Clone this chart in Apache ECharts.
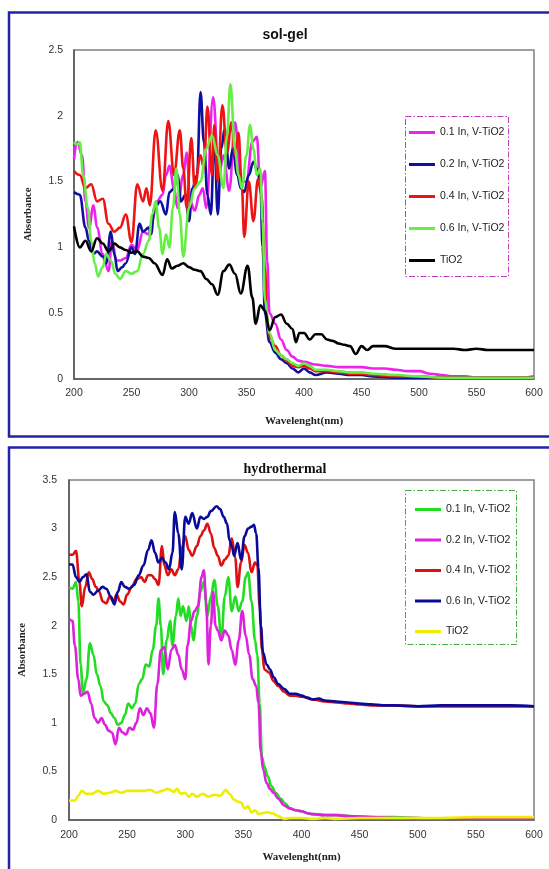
<!DOCTYPE html>
<html>
<head>
<meta charset="utf-8">
<title>sol-gel / hydrothermal</title>
<script src="https://cdn.jsdelivr.net/npm/echarts@6/dist/echarts.min.js"></script>
<style>
    html, body { margin: 0; padding: 0; background: #fff; }
    .echarts_1 { position: absolute; left: 0; top: 0; width: 549px; height: 442px; }
    .echarts_2 { position: absolute; left: 0; top: 442px; width: 549px; height: 427px; }
</style>
</head>
<body>
<div class="echarts_1"></div>
<div class="echarts_2"></div>
<script>
// 图例名称
var names = ['0.1 In, V-TiO2', '0.2 In, V-TiO2', '0.4 In, V-TiO2', '0.6 In, V-TiO2', 'TiO2'];
var xTicks = [200, 600, 50];

// ---- sol-gel 数据 ----
var sol01X = [200,203,207,210,213,217,220,225,230,233,237,240,245,250,255,260,265,268,272,277,280,283,287,290,295,298,301,305,309,312,315,321,326,330,335,340,345,350,355,359,362,366,368,370,375,380,385,390,395,400,410,420,430,440,450,460,470,480,490,500,510,520,530,540,550,560,570,580,590,600];
var sol01Y = [1.67,1.80,1.70,1.35,1.15,1.32,1.15,0.95,0.82,1.05,0.90,0.90,0.92,1.02,0.98,1.12,1.10,1.20,1.35,1.40,1.55,1.62,1.45,1.30,1.55,1.72,1.35,1.28,1.40,1.45,1.30,2.14,1.55,1.70,1.43,1.95,1.50,1.50,1.80,1.84,1.45,1.58,0.90,0.50,0.42,0.30,0.22,0.17,0.14,0.13,0.11,0.10,0.09,0.09,0.09,0.08,0.08,0.07,0.06,0.06,0.04,0.03,0.02,0.02,0.01,0.01,0.01,0.01,0.01,0.02];

var sol02X = [200,205,210,213,217,220,225,228,232,235,238,242,245,250,253,257,260,265,267,270,275,280,283,287,290,293,297,300,303,307,310,313,316,319,322,325,328,331,335,338,342,345,348,352,356,359,362,364,366,370,375,380,385,390,395,400,405,410,420,430,440,450,460,480,500,520,550,600];
var sol02Y = [1.42,1.40,1.15,1.05,0.95,0.97,0.93,0.88,1.12,0.95,0.82,0.85,0.88,1.00,0.95,1.18,1.12,1.15,1.10,1.30,1.35,1.25,1.42,1.45,1.55,1.35,1.40,1.20,1.45,1.55,2.18,1.80,1.40,1.25,1.85,1.25,1.75,1.90,1.60,1.75,1.55,1.45,1.42,1.55,1.65,1.60,1.50,1.00,0.50,0.28,0.20,0.15,0.12,0.08,0.05,0.08,0.05,0.03,0.05,0.04,0.03,0.03,0.02,0.01,0.01,0.01,0.01,0.01];

var sol04X = [200,205,210,215,220,225,230,235,240,245,250,255,260,263,266,271,277,282,287,292,295,298,302,305,310,313,316,320,322,325,329,333,337,340,343,346,348,352,356,360,363,366,368,370,375,380,385,390,395,400,405,410,420,430,440,450,460,480,500,520,550,600];
var sol04Y = [1.58,1.55,1.45,1.48,1.35,1.37,1.18,1.12,1.15,1.25,1.04,1.48,1.35,1.45,1.32,1.89,1.43,1.96,1.55,1.89,1.60,1.30,1.83,1.45,1.70,1.60,2.07,1.55,1.93,1.50,2.08,1.72,1.95,1.70,1.87,1.45,1.08,1.50,1.20,1.52,1.40,0.85,0.45,0.32,0.25,0.18,0.14,0.10,0.09,0.10,0.08,0.06,0.06,0.05,0.04,0.04,0.03,0.02,0.02,0.01,0.01,0.01];

var sol06X = [200,203,205,208,212,215,218,221,225,228,232,236,240,245,250,255,260,265,268,271,274,277,280,283,286,289,292,295,300,305,310,315,320,325,330,333,336,340,343,346,350,353,356,359,362,364,366,370,375,380,385,390,395,400,405,410,420,430,440,450,460,480,500,520,550,600];
var sol06Y = [1.80,1.78,1.80,1.55,1.30,1.05,0.88,0.78,0.85,0.95,0.90,0.80,0.76,0.82,0.80,0.82,0.95,1.05,1.25,1.35,1.15,0.95,1.10,1.00,1.30,1.60,1.25,0.93,1.30,1.45,1.50,1.75,1.85,1.70,1.45,1.85,2.24,1.75,1.55,1.45,1.70,1.93,1.75,1.55,1.60,1.20,0.60,0.35,0.22,0.18,0.15,0.12,0.10,0.12,0.10,0.07,0.07,0.06,0.05,0.05,0.04,0.03,0.02,0.01,0.01,0.01];

var solTiX = [200,205,210,215,220,225,230,235,240,245,250,255,260,265,270,277,281,285,290,295,300,305,310,315,320,325,330,335,340,345,351,355,358,362,366,370,375,380,385,390,393,396,400,405,410,415,420,425,430,435,440,445,450,455,460,470,480,490,500,510,520,530,540,550,560,570,580,590,600];
var solTiY = [1.16,1.00,1.05,0.97,1.07,1.03,0.97,1.03,1.00,0.98,0.96,0.97,0.93,0.92,0.88,0.79,0.91,0.84,0.86,0.88,0.85,0.83,0.82,0.76,0.72,0.64,0.82,0.87,0.80,0.65,0.86,0.62,0.42,0.56,0.52,0.37,0.47,0.49,0.42,0.38,0.28,0.35,0.35,0.30,0.34,0.34,0.30,0.29,0.27,0.26,0.25,0.19,0.25,0.22,0.25,0.25,0.23,0.23,0.23,0.23,0.23,0.23,0.22,0.23,0.22,0.22,0.22,0.22,0.22];

// ---- hydrothermal 数据 ----
var hyd01X = [200,203,206,208,210,212,215,218,221,224,227,230,233,236,239,242,245,248,251,254,257,260,263,266,269,272,275,277,279,281,284,287,289,292,294,296,298,301,303,305,307,310,313,316,319,322,325,328,331,334,337,340,343,346,349,352,354,357,360,362,364,366,368,371,374,378,382,386,390,395,400,405,410,420,430,440,460,480,500,520,550,600];
var hyd01Y = [2.40,2.38,2.45,2.25,1.60,1.30,1.45,1.82,1.70,1.50,1.38,1.22,1.18,1.10,1.05,0.98,1.00,1.08,1.20,1.15,1.20,1.40,1.45,1.60,1.58,1.75,2.00,2.28,2.00,1.50,1.85,2.05,1.80,2.10,2.28,2.10,2.20,2.05,2.20,2.00,1.85,2.10,2.35,2.45,2.10,2.30,2.47,2.20,1.85,2.30,2.50,2.15,2.30,2.15,2.25,2.50,2.55,2.25,1.85,1.70,1.20,0.65,0.55,0.45,0.35,0.28,0.22,0.17,0.12,0.10,0.09,0.07,0.06,0.05,0.05,0.04,0.03,0.03,0.02,0.01,0.01,0.01];

var hyd02X = [200,203,205,208,210,213,216,219,222,225,228,231,234,237,240,243,246,249,252,255,258,261,264,267,270,273,276,279,282,285,288,291,294,297,300,302,305,308,311,314,316,318,320,322,324,326,328,331,334,337,340,343,346,349,352,355,358,361,363,365,367,370,373,376,380,385,390,395,400,405,410,420,430,440,460,480,500,520,550,600];
var hyd02Y = [2.07,2.05,1.80,1.45,1.28,1.30,1.32,1.20,1.05,1.00,1.05,0.98,0.92,0.90,0.78,0.95,0.90,0.88,0.95,0.93,1.00,1.15,1.08,1.15,1.10,0.95,1.40,1.75,1.78,1.55,1.75,1.80,1.70,1.55,1.45,1.80,2.05,2.15,2.20,2.50,2.57,2.25,1.60,2.00,2.35,2.00,1.95,1.85,1.95,1.90,1.75,1.60,1.85,2.15,1.90,1.70,1.45,1.38,1.20,0.70,0.52,0.38,0.32,0.28,0.22,0.15,0.12,0.10,0.09,0.07,0.06,0.05,0.05,0.04,0.03,0.02,0.02,0.01,0.01,0.01];

var hyd04X = [200,203,206,209,211,214,217,220,223,226,229,232,235,238,241,244,247,250,254,258,262,265,268,271,274,277,280,282,285,288,291,294,297,300,303,306,310,313,316,319,322,325,328,331,334,337,340,343,345,348,351,354,357,360,362,364,366,368,372,376,380,385,390,395,400,410,420,430,440,450,460,480,500,600];
var hyd04Y = [2.73,2.73,2.77,2.45,2.20,2.40,2.55,2.48,2.40,2.35,2.25,2.23,2.30,2.25,2.32,2.25,2.22,2.32,2.40,2.48,2.50,2.45,2.52,2.52,2.48,2.42,2.82,2.62,2.52,2.58,2.52,2.58,2.80,2.92,2.78,2.72,2.82,2.92,2.98,3.05,2.95,2.80,2.72,2.62,2.68,2.72,2.90,2.70,2.40,2.65,2.83,2.75,2.55,2.65,2.62,2.20,1.75,1.55,1.52,1.43,1.38,1.32,1.28,1.28,1.27,1.24,1.22,1.21,1.20,1.19,1.18,1.18,1.17,1.17];

var hyd06X = [200,203,206,209,212,215,218,221,225,229,232,236,239,242,245,248,252,256,260,264,268,271,274,277,280,283,286,289,291,294,297,300,303,306,310,313,316,319,322,327,330,333,336,338,340,342,345,348,351,354,357,359,361,363,365,367,370,373,376,380,385,390,395,400,405,410,415,420,430,440,450,460,470,480,500,520,540,560,580,600];
var hyd06Y = [2.63,2.63,2.50,2.45,2.50,2.53,2.35,2.32,2.36,2.40,2.38,2.30,2.22,2.35,2.45,2.40,2.38,2.42,2.52,2.62,2.78,2.88,2.75,2.65,2.70,2.65,2.58,2.75,3.17,2.95,2.58,3.12,3.05,3.16,3.00,3.12,3.10,3.12,3.18,3.23,3.20,3.12,3.05,2.88,2.82,2.72,2.85,2.68,2.92,3.00,3.02,3.04,2.95,2.60,2.00,1.72,1.60,1.55,1.47,1.40,1.35,1.30,1.30,1.28,1.26,1.24,1.25,1.23,1.22,1.21,1.20,1.19,1.18,1.18,1.17,1.18,1.18,1.18,1.18,1.17];

var hydTiX = [200,205,208,211,215,220,225,230,235,240,245,250,255,260,265,270,275,280,285,290,293,296,300,303,306,310,315,320,325,330,335,338,342,345,348,351,354,357,360,363,366,370,375,380,385,390,400,410,420,430,450,470,500,520,550,580,600];
var hydTiY = [0.20,0.20,0.25,0.30,0.27,0.27,0.30,0.27,0.28,0.30,0.28,0.30,0.30,0.30,0.30,0.31,0.28,0.30,0.32,0.29,0.32,0.27,0.28,0.24,0.27,0.24,0.27,0.24,0.26,0.25,0.31,0.27,0.21,0.19,0.18,0.12,0.14,0.08,0.10,0.06,0.07,0.08,0.07,0.04,0.01,0.02,0.02,0.01,0.02,0.01,0.02,0.02,0.02,0.02,0.03,0.03,0.03];

// x, y 数组合成 [x, y]
function pairs(xs, ys) {
    var out = [];
    for (var i = 0; i < xs.length; i++) {
        out.push([xs[i], ys[i]]);
    }
    return out;
}

function lineSeries(name, xs, ys, color) {
    return {
        name: name,
        type: 'line',
        data: pairs(xs, ys),
        showSymbol: false,
        smooth: 0.4,
        smoothMonotone: 'x',
        lineStyle: { color: color, width: 2.6 },
        itemStyle: { color: color }
    };
}

var sansFont = 'Liberation Sans';
var serifFont = 'Liberation Serif';

// 公共的坐标轴配置
function makeOption(cfg) {
    return {
        animation: false,
        title: {
            text: cfg.title,
            left: 280,
            top: cfg.titleTop,
            textAlign: 'center',
            textStyle: { fontFamily: cfg.titleFont, fontWeight: 'bold', fontSize: 14, color: '#111' }
        },
        grid: {
            left: cfg.grid[0], top: cfg.grid[1], right: cfg.grid[2], bottom: cfg.grid[3],
            show: true, borderColor: '#808080', borderWidth: 1.5, backgroundColor: '#fff'
        },
        legend: {
            orient: 'vertical',
            left: cfg.legendLeft,
            top: cfg.legendTop,
            padding: 0,
            itemGap: cfg.legendGap,
            itemWidth: 26,
            itemHeight: 3,
            icon: 'rect',
            data: names,
            textStyle: { fontFamily: sansFont, fontSize: 10.5, color: '#222' }
        },
        xAxis: {
            type: 'value',
            min: xTicks[0], max: xTicks[1], interval: xTicks[2],
            name: 'Wavelenght(nm)',
            nameLocation: 'middle',
            nameGap: cfg.xNameGap,
            nameTextStyle: { fontFamily: serifFont, fontWeight: 'bold', fontSize: 11, color: '#222' },
            axisLine: { lineStyle: { color: '#555', width: 1.5 } },
            axisTick: { show: false },
            splitLine: { show: false },
            axisLabel: { margin: cfg.xLabelMargin, fontFamily: sansFont, fontSize: 10.5, color: '#333' }
        },
        yAxis: {
            type: 'value',
            min: 0, max: cfg.yMax, interval: 0.5,
            name: 'Absorbance',
            nameLocation: 'middle',
            nameGap: cfg.yNameGap,
            nameTextStyle: { fontFamily: serifFont, fontWeight: 'bold', fontSize: 10.5, color: '#222' },
            axisLine: { show: true, lineStyle: { color: '#555', width: 1.5 } },
            axisTick: { show: false },
            splitLine: { show: false },
            axisLabel: { margin: cfg.yLabelMargin, fontFamily: sansFont, fontSize: 10.5, color: '#333' }
        },
        graphic: [
            // 外面的蓝色边框
            {
                type: 'rect', z: -10, silent: true,
                shape: { x: 9, y: cfg.frameTop, width: 560, height: cfg.frameHeight },
                style: { fill: null, stroke: '#2323a8', lineWidth: 2.5 }
            },
            // 图例的点划线框
            {
                type: 'rect', z: 10, silent: true,
                shape: cfg.legendBox,
                style: { fill: null, stroke: cfg.legendBoxColor, lineWidth: 1, lineDash: [6, 2, 1.5, 2] }
            }
        ],
        series: cfg.series
    };
}

// sol-gel 图
var echarts_1 = echarts.init(document.querySelector('.echarts_1'));
var option1 = makeOption({
    title: 'sol-gel',
    titleTop: 23,
    titleFont: sansFont,
    grid: [74, 50, 15, 63],
    legendLeft: 409,
    legendTop: 127,
    legendGap: 21,
    legendBox: { x: 405.5, y: 116.5, width: 103, height: 160 },
    legendBoxColor: '#c040c0',
    xNameGap: 37,
    xLabelMargin: 9,
    yNameGap: 40,
    yLabelMargin: 11,
    yMax: 2.5,
    frameTop: 12.5,
    frameHeight: 424,
    series: [
        lineSeries(names[0], sol01X, sol01Y, '#ee22ee'),
        lineSeries(names[1], sol02X, sol02Y, '#1010a0'),
        lineSeries(names[2], sol04X, sol04Y, '#ee1414'),
        lineSeries(names[3], sol06X, sol06Y, '#66ee44'),
        lineSeries(names[4], solTiX, solTiY, '#000000')
    ]
});
echarts_1.setOption(option1);

// hydrothermal 图
var echarts_2 = echarts.init(document.querySelector('.echarts_2'));
var option2 = makeOption({
    title: 'hydrothermal',
    titleTop: 15,
    titleFont: serifFont,
    grid: [69, 38, 15, 49],
    legendLeft: 415,
    legendTop: 62,
    legendGap: 19.5,
    legendBox: { x: 405.5, y: 48.5, width: 111, height: 154 },
    legendBoxColor: '#44aa44',
    xNameGap: 32,
    xLabelMargin: 10,
    yNameGap: 41,
    yLabelMargin: 12,
    yMax: 3.5,
    frameTop: 5.5,
    frameHeight: 460,
    series: [
        lineSeries(names[0], hyd01X, hyd01Y, '#22dd22'),
        lineSeries(names[1], hyd02X, hyd02Y, '#dd22dd'),
        lineSeries(names[2], hyd04X, hyd04Y, '#dd1111'),
        lineSeries(names[3], hyd06X, hyd06Y, '#0a0a9a'),
        lineSeries(names[4], hydTiX, hydTiY, '#eeee00')
    ]
});
echarts_2.setOption(option2);
</script>
</body>
</html>
